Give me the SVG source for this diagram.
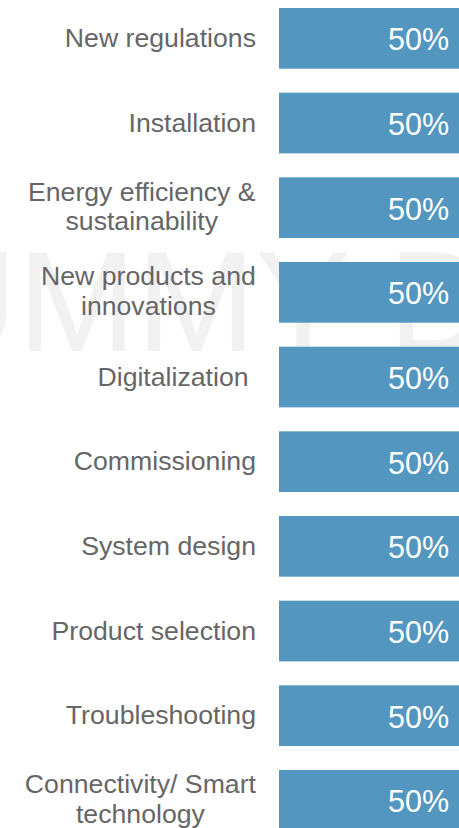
<svg xmlns="http://www.w3.org/2000/svg" width="459" height="828" viewBox="0 0 459 828">
<style>
.bg{fill:#ffffff}
.wm{font-family:"Liberation Sans",Arial,sans-serif;font-size:143px;fill:#f1f1f1}
.bar{fill:#5397c0}
.lbl{font-family:"Liberation Sans",Arial,sans-serif;font-size:26.67px;fill:#666666;text-anchor:end}
.lblc{font-family:"Liberation Sans",Arial,sans-serif;font-size:26.67px;fill:#666666;text-anchor:middle}
.val{font-family:"Liberation Sans",Arial,sans-serif;font-size:30.5px;fill:#ffffff;text-anchor:end}
</style>
<rect class="bg" x="0" y="0" width="459" height="828"/>
<text class="wm" x="-86" y="351">UMMY D</text>
<g id="connectors"/>
<g id="row-new-regulations">
<rect class="bar" x="279" y="8" width="180" height="60.7"/>
<text class="lbl" x="256" y="47">New regulations</text>
<text class="val" x="449" y="50.2">50%</text>
</g>
<g id="row-installation">
<rect class="bar" x="279" y="92.67" width="180" height="60.7"/>
<text class="lbl" x="256" y="131.67">Installation</text>
<text class="val" x="449" y="134.87">50%</text>
</g>
<g id="row-energy">
<rect class="bar" x="279" y="177.33" width="180" height="60.7"/>
<text class="lblc" x="141.8" y="200.6">Energy efficiency &amp;</text>
<text class="lblc" x="141.8" y="229.8">sustainability</text>
<text class="val" x="449" y="219.53">50%</text>
</g>
<g id="row-new-products">
<rect class="bar" x="279" y="262" width="180" height="60.7"/>
<text class="lblc" x="148.4" y="285.3">New products and</text>
<text class="lblc" x="148.4" y="314.5">innovations</text>
<text class="val" x="449" y="304.2">50%</text>
</g>
<g id="row-digitalization">
<rect class="bar" x="279" y="346.67" width="180" height="60.7"/>
<text class="lbl" x="248.6" y="385.67">Digitalization</text>
<text class="val" x="449" y="388.87">50%</text>
</g>
<g id="row-commissioning">
<rect class="bar" x="279" y="431.33" width="180" height="60.7"/>
<text class="lbl" x="256" y="470.33">Commissioning</text>
<text class="val" x="449" y="473.53">50%</text>
</g>
<g id="row-system-design">
<rect class="bar" x="279" y="516" width="180" height="60.7"/>
<text class="lbl" x="256" y="555">System design</text>
<text class="val" x="449" y="558.2">50%</text>
</g>
<g id="row-product-selection">
<rect class="bar" x="279" y="600.67" width="180" height="60.7"/>
<text class="lbl" x="256" y="639.67">Product selection</text>
<text class="val" x="449" y="642.87">50%</text>
</g>
<g id="row-troubleshooting">
<rect class="bar" x="279" y="685.33" width="180" height="60.7"/>
<text class="lbl" x="256" y="724.33">Troubleshooting</text>
<text class="val" x="449" y="727.53">50%</text>
</g>
<g id="row-connectivity">
<rect class="bar" x="279" y="770" width="180" height="60.7"/>
<text class="lblc" x="140.4" y="793.3">Connectivity/ Smart</text>
<text class="lblc" x="140.4" y="822.5">technology</text>
<text class="val" x="449" y="812.2">50%</text>
</g>
</svg>
